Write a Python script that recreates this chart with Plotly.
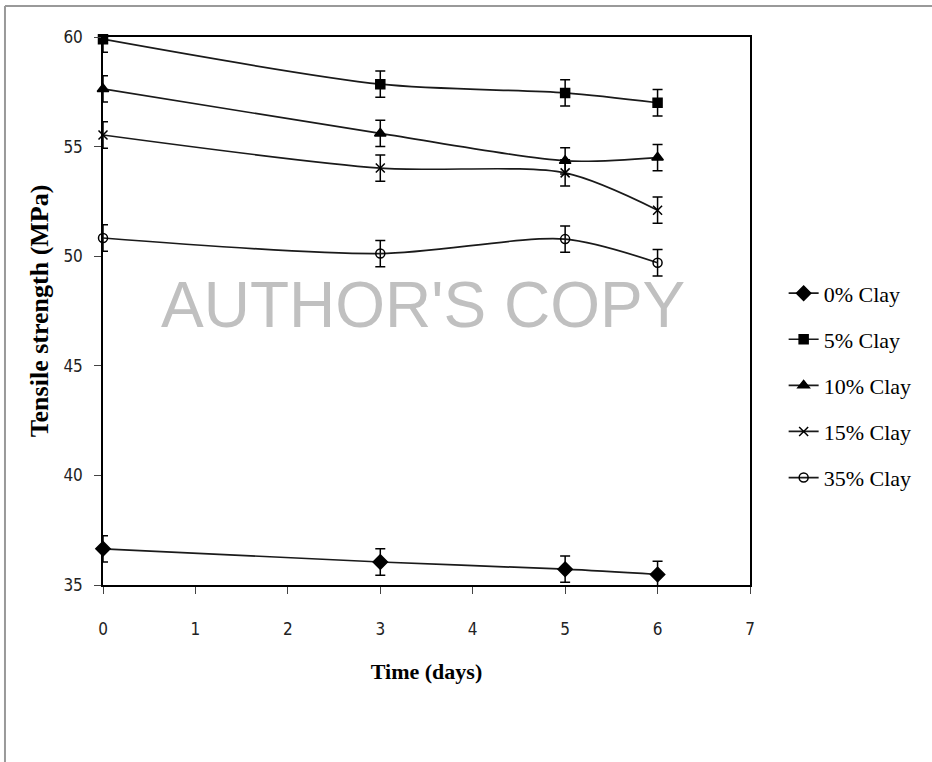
import plotly.graph_objects as go

days = [0, 3, 5, 6]
series_names = ["0% Clay", "5% Clay", "10% Clay", "15% Clay", "35% Clay"]
clay0 = [36.65, 36.05, 35.72, 35.48]
clay5 = [59.9, 57.85, 57.45, 57.0]
clay10 = [57.63, 55.6, 54.35, 54.5]
clay15 = [55.53, 54.02, 53.8, 52.1]
clay35 = [50.83, 50.12, 50.78, 49.7]
err_up5 = [0.1, 0.6, 0.6, 0.6]
err_dn5 = [0.6, 0.6, 0.6, 0.6]
err_std = [0.6, 0.6, 0.6, 0.6]

x_ticks = [0, 1, 2, 3, 4, 5, 6, 7]
y_ticks = [35, 40, 45, 50, 55, 60]

values = [clay0, clay5, clay10, clay15, clay35]
err_plus = [err_std, err_up5, err_std, err_std, err_std]
err_minus = [err_std, err_dn5, err_std, err_std, err_std]
symbols = ["diamond", "square", "triangle-up", "x-thin", "circle-open"]
sizes = [11, 9, 10, 9, 9]

fig = go.Figure()
for i, (name, vals) in enumerate(zip(series_names, values)):
    fig.add_trace(go.Scatter(
        x=days, y=vals, name=name, mode="lines+markers",
        legendgroup=name,
        line=dict(color="#1a1a1a", width=1.7, shape="spline", smoothing=0.8),
        marker=dict(symbol=symbols[i], size=sizes[i], color="#000000",
                    line=dict(color="#000000", width=1.5)),
        error_y=dict(type="data", symmetric=False, array=err_plus[i],
                     arrayminus=err_minus[i], color="#000000",
                     thickness=1.5, width=5),
        cliponaxis=False,
    ))

tick_font = dict(family="Liberation Sans Narrow, DejaVu Sans Condensed, Arial Narrow, sans-serif",
                 size=17, color="#222222")
title_font = dict(family="Liberation Serif, Times New Roman, serif", size=22, color="#000000")

fig.update_layout(
    width=932, height=762,
    margin=dict(l=103, r=182, t=37, b=177),
    paper_bgcolor="white", plot_bgcolor="white",
    showlegend=True,
    legend=dict(x=1.052, y=0.5705, xanchor="left", yanchor="top",
                font=dict(family="Liberation Serif, Times New Roman, serif", size=22, color="#000000"),
                tracegroupgap=14.5, bgcolor="rgba(0,0,0,0)"),
    xaxis=dict(range=[0, 7], tickvals=x_ticks, ticktext=[str(v) for v in x_ticks],
               showgrid=False, zeroline=False, showline=True, linecolor="#000000",
               linewidth=1.5, mirror=True, ticks="outside", ticklen=7, tickcolor="#444444",
               tickfont=tick_font, ticklabelstandoff=21,
               title=dict(text="<b>Time (days)</b>", font=title_font, standoff=25)),
    yaxis=dict(range=[35, 60], tickvals=y_ticks, ticktext=[str(v) for v in y_ticks],
               showgrid=False, zeroline=False, showline=True, linecolor="#000000",
               linewidth=1.5, mirror=True, ticks="outside", ticklen=7, tickcolor="#444444",
               tickfont=tick_font, ticklabelstandoff=8,
               title=dict(text="<b>Tensile strength (MPa)</b>",
                          font=dict(family="Liberation Serif, Times New Roman, serif", size=26, color="#000000"),
                          standoff=7)),
    shapes=[
        dict(type="line", xref="paper", yref="paper", x0=-0.1515, x1=1.3, y0=1.0566, y1=1.0566,
             line=dict(color="#999999", width=2)),
        dict(type="line", xref="paper", yref="paper", x0=-0.1515, x1=-0.1515, y0=1.0566, y1=-0.35,
             line=dict(color="#999999", width=2)),
    ],
    annotations=[
        dict(text="AUTHOR'S COPY", xref="paper", yref="paper", x=0.4946, y=0.511,
             showarrow=False, font=dict(family="Liberation Sans, Arial, sans-serif", size=64, color="#c0c0c0")),
    ],
)

fig.write_html("out.html", config={"displayModeBar": False},
               post_script="document.body.style.margin='0';document.body.style.overflow='hidden';")
